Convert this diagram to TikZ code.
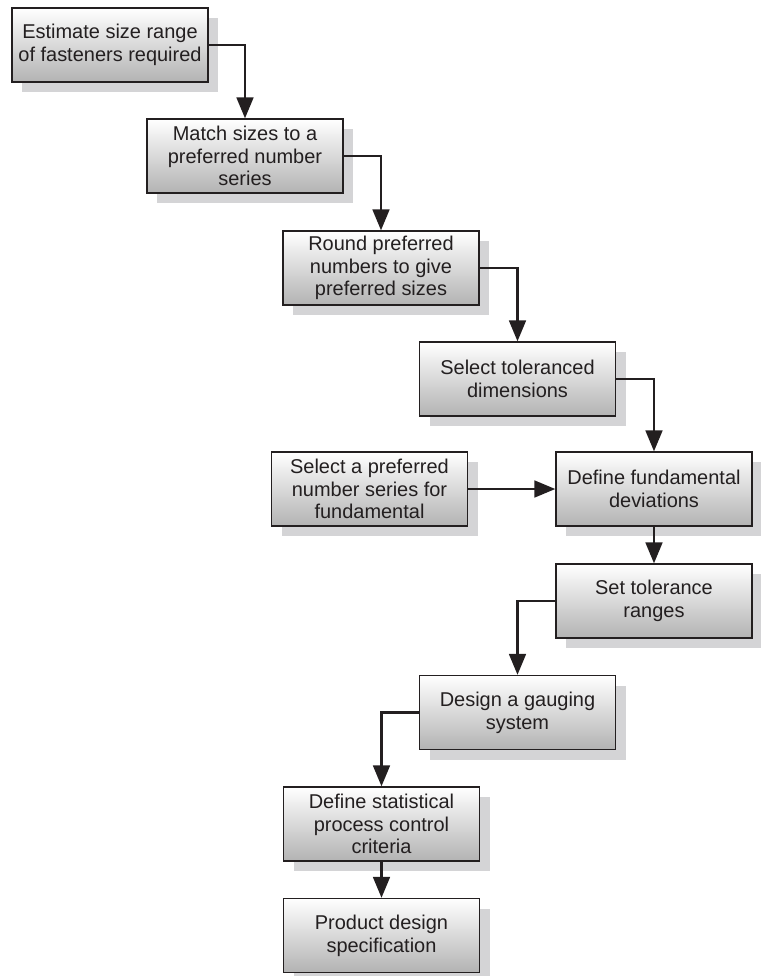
\documentclass[tikz,border=0pt]{standalone}
\usepackage{fontspec}
\setmainfont{Liberation Sans}
\usepackage{tikz}
\usetikzlibrary{positioning,arrows.meta,shadows}
\definecolor{edge}{RGB}{35, 31, 32}
\definecolor{shade}{RGB}{212, 212, 214}

\begin{document}
\begin{tikzpicture}[
    x=0.025cm, y=-0.025cm,
    stepbox/.style={draw=edge, line width=1pt, top color=white, bottom color=black!30,
                minimum width=4.9cm, minimum height=1.85cm, align=center, inner sep=2pt,
                font=\fontsize{14.2}{16.2}\selectfont, text=edge,
                drop shadow={shadow xshift=0.26cm, shadow yshift=-0.26cm, fill=shade, opacity=1}},
    arr/.style={-{Triangle[length=0.52cm, width=0.42cm]}, line width=1.5pt, color=edge},
]
\useasboundingbox (0,0) rectangle (761,976);
\node[stepbox] (est)     at (110,45)    {Estimate size range\\of fasteners required};
\node[stepbox] (match)   at (245,156)   {Match sizes to a\\preferred number\\series};
\node[stepbox] (round)   at (381,268)   {Round preferred\\numbers to give\\preferred sizes};
\node[stepbox] (seltol)  at (517.5,379) {Select toleranced\\dimensions};
\node[stepbox] (deffund) at (654,489)   {Define fundamental\\deviations};
\node[stepbox] (selpref) at (369.5,489) {Select a preferred\\number series for\\fundamental};
\node[stepbox] (settol)  at (654,601)   {Set tolerance\\ranges};
\node[stepbox] (gauge)   at (517.5,712.5) {Design a gauging\\system};
\node[stepbox] (spc)     at (381.5,824) {Define statistical\\process control\\criteria};
\node[stepbox] (pds)     at (381.5,935.5) {Product design\\specification};

\draw[arr] (est.east)     -| (match.north);
\draw[arr] (match.east)   -| (round.north);
\draw[arr] (round.east)   -| (seltol.north);
\draw[arr] (seltol.east)  -| (deffund.north);
\draw[arr] (selpref.east) -- (deffund.west);
\draw[arr] (deffund.south) -- (settol.north);
\draw[arr] (settol.west)  -| (gauge.north);
\draw[arr] (gauge.west)   -| (spc.north);
\draw[arr] (spc.south)    -- (pds.north);
\end{tikzpicture}
\end{document}
